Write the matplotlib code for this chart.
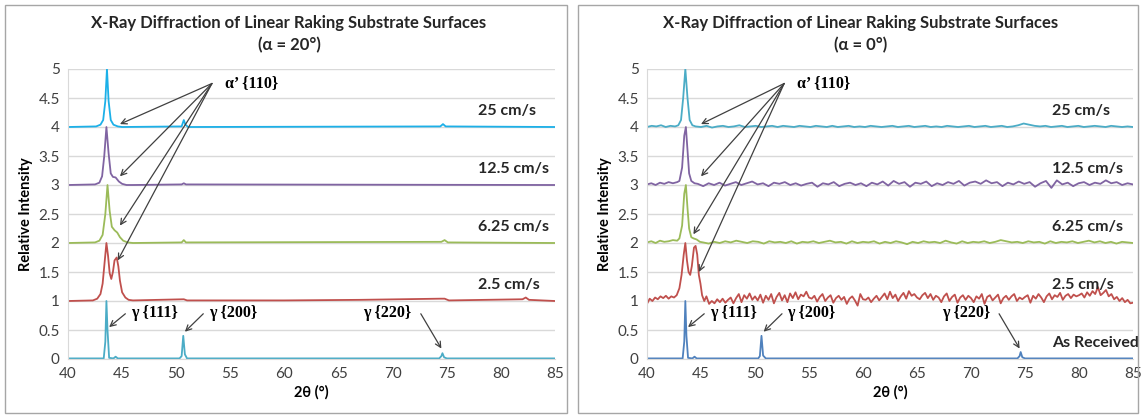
import numpy as np
import matplotlib
matplotlib.use("Agg")
import matplotlib.pyplot as plt
from matplotlib.patches import Rectangle

# ---- data (relative intensity, before vertical offset) ----
offsets = {"As Received": 0, "2.5 cm/s": 1, "6.25 cm/s": 2, "12.5 cm/s": 3, "25 cm/s": 4}

# alpha = 20 deg panel
l_recv_x = [40, 43.3, 43.45, 43.55, 43.65, 43.8, 44.2, 44.4, 44.6, 45, 50.3, 50.5, 50.65, 50.8, 51.0,
            74.3, 74.5, 74.6, 74.75, 75, 85]
l_recv_y = [0.01, 0.01, 0.3, 1.0, 0.5, 0.02, 0.01, 0.04, 0.01, 0.01, 0.01, 0.05, 0.4, 0.08, 0.01,
            0.01, 0.05, 0.1, 0.03, 0.01, 0.01]
l_25_x = [40, 42.3, 42.7, 43.0, 43.2, 43.4, 43.55, 43.7, 43.85, 44.0, 44.15, 44.3, 44.5, 44.65, 44.8,
          45.0, 45.3, 45.6, 46, 50.7, 51, 60, 67, 74.4, 74.8, 75.2, 82.0, 82.3, 82.6, 85]
l_25_y = [0.0, 0.01, 0.04, 0.12, 0.3, 0.7, 1.0, 0.78, 0.48, 0.38, 0.5, 0.7, 0.75, 0.6, 0.35,
          0.15, 0.06, 0.02, 0.01, 0.03, 0.01, 0.01, 0.02, 0.04, 0.04, 0.01, 0.03, 0.06, 0.02, 0.0]
l_625_x = [40, 42.5, 42.9, 43.2, 43.45, 43.65, 43.85, 44.05, 44.3, 44.55, 44.8, 45.1, 45.5, 46,
           50.5, 50.7, 50.9, 74.5, 74.8, 75.1, 85]
l_625_y = [0.0, 0.01, 0.04, 0.14, 0.5, 1.0, 0.55, 0.28, 0.22, 0.18, 0.1, 0.04, 0.01, 0.0,
           0.01, 0.05, 0.01, 0.02, 0.05, 0.01, 0.0]
l_125_x = [40, 42.5, 42.9, 43.15, 43.35, 43.55, 43.75, 43.95, 44.15, 44.4, 44.7, 45.0, 45.4, 46,
           50.5, 50.7, 50.9, 85]
l_125_y = [0, 0.01, 0.04, 0.15, 0.5, 1.0, 0.55, 0.2, 0.14, 0.13, 0.06, 0.02, 0.0, 0,
           0.01, 0.03, 0.01, 0]
l_250_x = [40, 42.6, 43.0, 43.25, 43.45, 43.6, 43.75, 43.95, 44.2, 44.6, 45, 50.5, 50.7, 50.85, 51.1,
           74.4, 74.65, 74.9, 85]
l_250_y = [0, 0.01, 0.04, 0.12, 0.45, 1.0, 0.45, 0.12, 0.04, 0.01, 0, 0.01, 0.12, 0.04, 0.0,
           0.01, 0.05, 0.01, 0]

# alpha = 0 deg panel
r_recv_x = [40, 43.3, 43.45, 43.55, 43.65, 43.8, 44.2, 44.4, 44.6, 45, 50.3, 50.45, 50.6, 50.75, 51,
            74.3, 74.5, 74.6, 74.75, 75, 85]
r_recv_y = [0.01, 0.01, 0.3, 1.0, 0.4, 0.02, 0.01, 0.04, 0.01, 0.01, 0.01, 0.05, 0.4, 0.06, 0.01,
            0.01, 0.05, 0.12, 0.03, 0.01, 0.01]

r_25_pre = [-0.05, 0.04, 0.0, 0.06, 0.03, 0.08, 0.05, 0.09, 0.04, 0.08, 0.06, 0.1]
r_25_pk_x = [43.0, 43.2, 43.4, 43.55, 43.7, 43.85, 44.0, 44.15, 44.35, 44.5, 44.65, 44.8, 44.95, 45.1, 45.3]
r_25_pk_y = [0.22, 0.45, 0.8, 1.0, 0.7, 0.5, 0.45, 0.6, 0.92, 0.95, 0.8, 0.45, 0.3, 0.1, 0.0]
r_25_base = [0.08, -0.05, 0.0, -0.04, 0.03, -0.02, 0.04, -0.03, 0.02, 0.06, -0.04, 0.05, 0.12, -0.02,
             0.10, 0.04, 0.13, 0.02, 0.08,
             0.01, 0.11, -0.03, 0.09, 0.02, 0.12, -0.04, 0.07, 0.14, 0.01, 0.10, -0.02, 0.13, 0.05,
             0.15, 0.03, 0.11, 0.08, 0.16, 0.06,
             0.04, 0.09, -0.01, 0.07, 0.12, 0.0, 0.06, 0.10, -0.03, 0.05, 0.09, 0.02, 0.07, -0.05,
             0.04, 0.08, 0.01, -0.08, 0.12, 0.03,
             0.02, 0.06, -0.02, 0.04, 0.09, 0.01, 0.07, 0.13, 0.03, 0.16, 0.05, 0.11, 0.0, 0.08,
             0.14, 0.04, 0.17, 0.09, 0.12, 0.06,
             0.03, 0.10, 0.14, 0.05, 0.12, 0.02, 0.09, 0.06, -0.02, 0.08, 0.13, 0.0, 0.07, 0.11,
             -0.03, 0.06, 0.10, 0.02, 0.09, 0.05,
             -0.02, 0.08, 0.04, 0.12, -0.05, 0.07, 0.10, 0.01, 0.06, 0.11, -0.04, 0.05, 0.09, 0.02,
             0.08, 0.12, 0.0, 0.06, 0.03, 0.07,
             0.10, -0.03, 0.09, 0.04, 0.12, 0.06, -0.02, 0.08, 0.13, 0.03, 0.10, 0.07, 0.14, 0.02,
             0.09, 0.12, 0.05, 0.11, 0.08, 0.10,
             0.13, 0.06, 0.15, 0.09, 0.17, 0.12, 0.24, 0.10, 0.14, 0.19, 0.08, 0.12, 0.03, 0.07,
             0.0, 0.05, -0.02, 0.02, -0.04, -0.03]

r_625_pre = [0.01, 0.03, 0.0, 0.04, 0.02, 0.03, 0.05, 0.04]
r_625_pk_x = [43.0, 43.25, 43.45, 43.6, 43.75, 43.9, 44.1, 44.3, 44.6, 44.9]
r_625_pk_y = [0.08, 0.3, 0.85, 1.0, 0.6, 0.25, 0.1, 0.08, 0.06, 0.02]
r_625_base = [0.01, -0.01, 0.02, 0.0, 0.03, 0.01, 0.04, 0.02, 0.0, 0.03,
              0.02, -0.01, 0.03, 0.01, 0.02, 0.0, 0.03, -0.01, 0.02, 0.01,
              0.03, 0.0, 0.02, 0.04, 0.01, 0.02, -0.01, 0.03, 0.0, 0.02,
              0.01, 0.03, -0.01, 0.02, 0.0, 0.03, 0.01, -0.02, 0.02, 0.0,
              0.03, 0.01, 0.02, 0.0, 0.04, 0.01, -0.01, 0.03, 0.0, 0.02,
              0.01, 0.03, 0.0, 0.02, 0.05, 0.03, 0.01, 0.02, 0.0, 0.03,
              0.01, 0.02, -0.01, 0.03, 0.0, 0.02, 0.01, 0.03, 0.0, 0.02,
              0.04, 0.01, 0.03, 0.0, 0.02, -0.01, 0.02, 0.01, 0.0]

r_125_pre = [0.01, 0.03, 0.0, 0.04, 0.02, 0.05, 0.03, 0.05]
r_125_pk_x = [43.0, 43.25, 43.45, 43.6, 43.75, 43.9, 44.1, 44.4]
r_125_pk_y = [0.07, 0.3, 0.85, 1.0, 0.6, 0.2, 0.07, 0.03]
r_125_base = [0.02, -0.02, 0.03, 0.0, 0.04, -0.01, 0.02, 0.05, 0.0, 0.03,
              0.06, 0.01, 0.03, -0.02, 0.04, 0.02, 0.05, 0.0, 0.03, -0.01,
              0.02, 0.04, -0.03, 0.03, 0.01, 0.05, -0.02, 0.02, 0.04, 0.0,
              0.03, -0.02, 0.04, 0.01, 0.06, -0.01, 0.07, 0.02, 0.05, -0.03,
              0.04, 0.02, 0.06, -0.02, 0.03, 0.0, 0.05, 0.02, 0.07, -0.01,
              0.04, 0.06, 0.02, 0.08, 0.03, 0.05, -0.02, 0.04, 0.01, 0.06,
              0.02, 0.05, -0.03, 0.03, 0.07, -0.05, 0.08, 0.01, 0.04, -0.02,
              0.03, 0.05, 0.0, 0.04, 0.02, 0.08, 0.03, 0.05, 0.0, 0.03, 0.01]

r_250_pre = [0.0, 0.02, 0.01, 0.03, 0.0, 0.02, 0.01]
r_250_pk_x = [42.9, 43.15, 43.35, 43.55, 43.75, 43.95, 44.2]
r_250_pk_y = [0.03, 0.12, 0.5, 1.0, 0.5, 0.12, 0.03]
r_250_base = [0.01, 0.0, 0.02, -0.01, 0.01, 0.02, 0.0, 0.01, 0.03, 0.0,
              0.01, 0.02, 0.0, 0.01, 0.02, 0.0, 0.02, 0.01, 0.0, 0.02,
              0.01, 0.0, 0.02, 0.01, 0.0, 0.02, 0.0, 0.01, 0.02, 0.0,
              0.01, 0.0, 0.02, 0.01, 0.0, 0.01, 0.02, 0.0, 0.01, 0.02,
              0.0, 0.01, 0.02, 0.0, 0.01, 0.0, 0.02, 0.01, 0.0, 0.01,
              0.02, 0.0, 0.01, 0.02, 0.0, 0.01, 0.02, 0.0, 0.01, 0.03,
              0.06, 0.04, 0.02, 0.01, 0.02, 0.0, 0.01, 0.02, 0.0, 0.01,
              0.02, 0.0, 0.01, 0.02, 0.01, 0.0, 0.02, 0.01, 0.0, 0.01, 0.0]


def join(pre, pre_end, pk_x, pk_y, base, base_start):
    """stitch sampled segments of one pattern together"""
    x = list(np.linspace(40, pre_end, len(pre))) + pk_x + list(np.linspace(base_start, 85, len(base)))
    y = pre + pk_y + base
    return x, y


left_series = [
    ("As Received", l_recv_x, l_recv_y, "#4bacc6"),
    ("2.5 cm/s", l_25_x, l_25_y, "#c0504d"),
    ("6.25 cm/s", l_625_x, l_625_y, "#9bbb59"),
    ("12.5 cm/s", l_125_x, l_125_y, "#8064a2"),
    ("25 cm/s", l_250_x, l_250_y, "#1cb0e8"),
]
right_series = [
    ("As Received", r_recv_x, r_recv_y, "#4f81bd"),
    ("2.5 cm/s", *join(r_25_pre, 42.75, r_25_pk_x, r_25_pk_y, r_25_base, 45.5), "#c0504d"),
    ("6.25 cm/s", *join(r_625_pre, 42.8, r_625_pk_x, r_625_pk_y, r_625_base, 45.2), "#9bbb59"),
    ("12.5 cm/s", *join(r_125_pre, 42.8, r_125_pk_x, r_125_pk_y, r_125_base, 44.7), "#8064a2"),
    ("25 cm/s", *join(r_250_pre, 42.6, r_250_pk_x, r_250_pk_y, r_250_base, 44.5), "#4bacc6"),
]

SANS = "Lato"
SERIF = "Liberation Serif"
GRID = "#d9d9d9"
TITLE = "X-Ray Diffraction of Linear Raking Substrate Surfaces"


def draw_panel(ax, series, label_x, show_recv, alpha_xy, alpha_targets):
    for name, x, y, color in series:
        ax.plot(x, np.array(y) + offsets[name], color=color, lw=1.3)
        if name != "As Received" or show_recv:
            ax.text(label_x, offsets[name] + 0.27, name, fontsize=11.5, fontweight="bold",
                    family=SANS, ha="left", va="center", color="#262626")

    ax.set_xlim(40, 85)
    ax.set_ylim(0, 5)
    ax.set_xticks(np.arange(40, 86, 5))
    ax.set_yticks(np.arange(0, 5.01, 0.5))
    ax.set_yticklabels([f"{v:g}" for v in np.arange(0, 5.01, 0.5)])
    ax.grid(axis="y", color=GRID, lw=1)
    ax.set_axisbelow(True)
    for s in ["top", "right"]:
        ax.spines[s].set_visible(False)
    for s in ["left", "bottom"]:
        ax.spines[s].set_color(GRID)
    ax.tick_params(length=0, labelsize=11, colors="#404040", pad=6)
    for lab in ax.get_xticklabels() + ax.get_yticklabels():
        lab.set_family(SANS)
    ax.set_xlabel("2θ (°)", fontsize=10.5, fontweight="bold", family=SANS, labelpad=3)
    ax.set_ylabel("Relative Intensity", fontsize=10.5, fontweight="bold", family=SANS, labelpad=4)

    arrow = dict(arrowstyle="->", color="#404040", lw=0.9, shrinkA=0, shrinkB=0)
    ax.text(alpha_xy[0] + 1.2, alpha_xy[1], "α’ {110}", fontsize=11.5, fontweight="bold",
            family=SERIF, va="center")
    for tx, ty in alpha_targets:
        ax.annotate("", xy=(tx, ty), xytext=alpha_xy, arrowprops=arrow)

    ax.text(45.8, 0.8, "γ {111}", fontsize=11.5, fontweight="bold", family=SERIF, va="center")
    ax.annotate("", xy=(43.8, 0.55), xytext=(45.3, 0.78), arrowprops=arrow)
    ax.text(53.0, 0.8, "γ {200}", fontsize=11.5, fontweight="bold", family=SERIF, va="center")
    ax.annotate("", xy=(50.8, 0.47), xytext=(52.5, 0.78), arrowprops=arrow)
    ax.text(67.3, 0.8, "γ {220}", fontsize=11.5, fontweight="bold", family=SERIF, va="center")
    ax.annotate("", xy=(74.5, 0.18), xytext=(72.6, 0.78), arrowprops=arrow)


fig = plt.figure(figsize=(11.43, 4.18), dpi=100)
for x0, w, sub in [(5, 562, "(α = 20°)"), (578, 560, "(α = 0°)")]:
    fig.patches.append(Rectangle((x0 / 1143, 5 / 418), w / 1143, 408 / 418,
                                 transform=fig.transFigure, fill=False,
                                 edgecolor="#a6a6a6", lw=1))
    cx = (x0 + w / 2 + 3) / 1143
    fig.text(cx, 1 - 23 / 418, TITLE, ha="center", va="center", fontsize=12,
             fontweight="bold", family=SANS, color="#262626")
    fig.text(cx, 1 - 45 / 418, sub, ha="center", va="center", fontsize=12,
             fontweight="bold", family=SANS, color="#262626")

ax1 = fig.add_axes([68 / 1143, 1 - 359 / 418, 487 / 1143, 290 / 418])
ax2 = fig.add_axes([647 / 1143, 1 - 359 / 418, 486 / 1143, 290 / 418])

draw_panel(ax1, left_series, 77.9, False, (53.3, 4.75),
           [(44.8, 4.05), (44.8, 3.15), (44.8, 2.3), (44.6, 1.7)])
draw_panel(ax2, right_series, 77.5, True, (52.7, 4.75),
           [(45.0, 4.05), (45.0, 3.15), (44.3, 2.15), (44.8, 1.5)])

fig.savefig("out.png", dpi=100)
